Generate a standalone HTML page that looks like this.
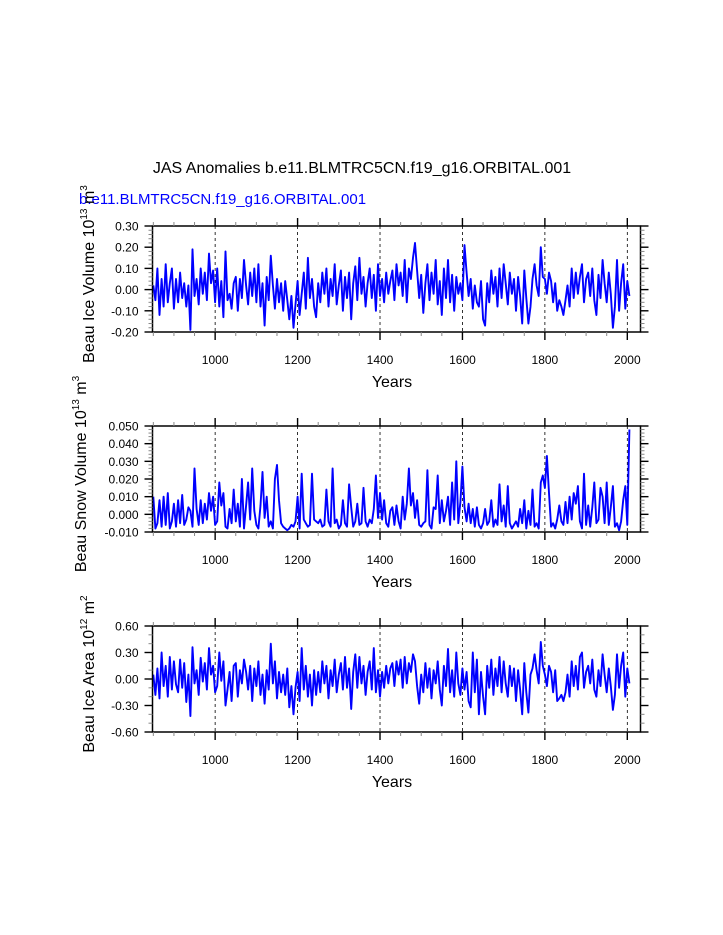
<!DOCTYPE html>
<html><head><meta charset="utf-8"><style>
html,body{margin:0;padding:0;background:#fff;}
svg{display:block;font-family:"Liberation Sans",Arial,sans-serif;}
</style></head><body>
<svg id="fig" width="723" height="935" viewBox="0 0 723 935">
<text x="362" y="173" font-size="16" text-anchor="middle">JAS Anomalies b.e11.BLMTRC5CN.f19_g16.ORBITAL.001</text>
<text x="79" y="204" font-size="15" fill="#0000ff">b.e11.BLMTRC5CN.f19_g16.ORBITAL.001</text>
</svg>
<script>
const startYear = 850, stepYears = 5;
const iceVolume = [2,-5,10,-12,5,-8,12,-6,3,10,-9,5,-6,8,-4,3,-8,2,-19,19,
-3,5,-7,10,-2,8,-5,17,3,9,-6,10,-8,4,-13,18,-5,-2,-9,3,
6,-10,5,-4,14,2,-7,8,-3,10,-6,12,-8,3,-17,6,-5,16,2,-9,
5,-6,3,-10,4,-5,-14,-3,-18,-7,4,-12,-2,8,-9,15,-4,5,-8,-13,
3,-6,8,-2,10,-8,5,-3,12,-7,2,9,-10,6,-4,8,-14,3,11,-5,
15,-2,6,-8,3,10,-4,7,-10,12,-3,5,-6,8,-2,4,9,-5,12,2,
8,-3,14,-6,10,5,15,22,9,-4,7,-11,3,12,-5,8,-2,14,-7,4,
-12,10,-4,14,-6,7,-10,6,-2,3,-5,21,8,-3,5,-9,2,-6,-8,4,
-14,-17,3,-6,9,-2,6,-8,10,-4,12,3,-7,8,-2,5,-10,6,-3,-16,
9,-4,-16,-8,5,12,2,-3,20,6,5,-2,8,4,-6,3,-10,-5,-8,-12,
-5,2,-8,10,-4,8,-2,6,12,-6,5,8,-3,10,-5,-12,7,-4,14,3,
-6,8,-2,-18,-8,14,-10,3,12,-9,4,-3];
const snowVolume = [10,-8,-5,8,-7,10,-6,12,-8,-4,6,-7,8,-5,11,-6,-3,4,2,-7,
26,3,-6,8,-5,6,-3,12,2,10,-6,-4,18,5,12,-7,-8,3,-5,14,
-4,6,-7,20,-8,5,18,-3,26,2,-6,-8,5,24,-2,10,-7,-4,-8,20,
28,8,-5,-7,-8,-9,-8,-6,-7,-4,10,-8,23,-3,-5,-7,-6,23,-3,-4,
-5,-3,-7,-6,14,-4,-7,26,-5,-3,-8,-6,8,-5,-7,17,4,-7,-4,6,
-6,-5,15,-4,-7,-3,-5,3,22,-2,12,-3,8,-5,-7,2,4,-6,5,-4,
-8,10,-3,6,26,5,12,-2,8,-6,-7,-5,-4,25,-6,-8,4,3,22,-5,
8,-4,2,10,-6,18,-3,30,-5,7,27,4,-4,6,-5,3,-7,4,-6,-8,
-5,3,-6,-4,8,-7,-3,-6,17,-4,5,-7,16,-5,-8,-6,-4,-7,3,-5,
8,-8,2,-6,14,-7,-5,-8,18,22,15,33,12,-7,-5,-8,-3,5,-4,-6,
7,-5,10,-3,12,6,16,-4,-8,23,-6,5,-7,4,18,-5,-3,15,10,-5,
18,-6,4,16,-7,-5,-9,-4,8,16,-6,48];
const iceArea = [5,-18,12,-22,30,-8,15,-20,25,-12,20,-6,-15,22,-10,18,-26,5,-42,36,
-5,10,-18,24,-3,18,-12,35,5,15,-15,-8,30,-2,20,-30,-12,8,-25,15,
18,-20,10,-5,22,8,-12,15,-25,12,-8,20,-18,5,-28,10,-12,40,-5,20,
-22,8,-15,5,-18,12,-32,-8,-40,-10,8,-25,35,-12,15,-20,5,-30,10,-18,
8,-15,20,-5,15,-22,10,-8,22,-15,5,18,-12,25,-10,12,-34,8,28,-10,
25,-5,15,-18,8,20,-12,35,-15,10,-20,8,-10,15,-5,12,18,-8,20,5,
22,-10,25,-5,18,8,28,20,-8,-28,5,-15,18,-10,12,-22,10,-5,20,-12,
-30,15,-8,34,-15,10,-20,30,-5,-18,12,-12,8,-25,-32,30,-15,22,-40,8,
-20,-40,15,-10,22,-18,12,-8,25,-15,20,-5,-20,15,-8,12,-25,10,-12,-40,
18,-15,-38,5,12,28,10,-5,42,15,5,-8,15,8,-15,10,-25,-22,-18,-25,
-15,5,-20,20,-8,15,-12,25,30,-10,8,15,-5,22,-12,-20,10,-8,28,5,
-15,12,-8,-35,-18,28,-10,15,30,-20,12,-5];
const xTickLabels = ["1000","1200","1400","1600","1800","2000"];
const yTicks1 = ["0.30","0.20","0.10","0.00","-0.10","-0.20"];
const yTicks2 = ["0.050","0.040","0.030","0.020","0.010","0.000","-0.010"];
const yTicks3 = ["0.60","0.30","0.00","-0.30","-0.60"];

const NS="http://www.w3.org/2000/svg";
const svg=document.getElementById('fig');
const X0=152.5,X1=640.5,XMIN=848,XMAX=2032;
const xs=y=>X0+(y-XMIN)/(XMAX-XMIN)*(X1-X0);
function mk(tag,attrs,parent){const e=document.createElementNS(NS,tag);for(const k in attrs)e.setAttribute(k,attrs[k]);(parent||svg).appendChild(e);return e;}

function panel(top,vals,scale,ticks,ymin,ymax,minorStep,labelParts,labelX,key){
  const H=106,bot=top+H;
  const ys=v=>bot-(v-ymin)/(ymax-ymin)*H;
  const g=mk('g',{});
  
  
  for(let i=0;i<xTickLabels.length;i++){
    const yr=+xTickLabels[i];
    const l=mk('line',{x1:xs(yr),x2:xs(yr),y1:top,y2:bot,stroke:'#000','stroke-width':0.8,'stroke-dasharray':'3,3'},g);
    
    
  }
  let d='';
  for(let i=0;i<vals.length;i++){const yr=startYear+i*stepYears;d+=(i?'L':'M')+xs(yr).toFixed(1)+','+ys(vals[i]*scale).toFixed(1);}
  const p=mk('path',{d:d,fill:'none',stroke:'#0000ff','stroke-width':1.9,'stroke-linejoin':'round'},g);
  
  
  const r=mk('rect',{x:X0,y:top,width:X1-X0,height:H,fill:'none',stroke:'#000','stroke-width':1.5},g);
  
  
  for(let yr=850;yr<=2030;yr+=50){
    const major=yr%200===0;const L=major?8:4;const x=xs(yr);
    mk('line',{x1:x,x2:x,y1:bot,y2:bot+L,stroke:major?'#000':'#888','stroke-width':major?1.4:1},g);
    mk('line',{x1:x,x2:x,y1:top,y2:top-L,stroke:major?'#000':'#888','stroke-width':major?1.4:1},g);
  }
  for(let i=0;i<xTickLabels.length;i++){
    const t=mk('text',{x:xs(+xTickLabels[i]),y:bot+32,'font-size':12,'text-anchor':'middle'},g);
    t.textContent=xTickLabels[i];
    
    
  }
  const nMin=Math.round((ymax-ymin)/minorStep);
  for(let k=0;k<=nMin;k++){
    const v=ymin+k*minorStep;const y=ys(v);
    mk('line',{x1:X0-4,x2:X0,y1:y,y2:y,stroke:'#888','stroke-width':1},g);
    mk('line',{x1:X1,x2:X1+4,y1:y,y2:y,stroke:'#888','stroke-width':1},g);
  }
  for(let i=0;i<ticks.length;i++){
    const y=ys(parseFloat(ticks[i]));
    mk('line',{x1:X0-8,x2:X0,y1:y,y2:y,stroke:'#000','stroke-width':1.4},g);
    mk('line',{x1:X1,x2:X1+8,y1:y,y2:y,stroke:'#000','stroke-width':1.4},g);
    const t=mk('text',{x:X0-14,y:y+4.5,'font-size':12,'text-anchor':'end'},g);
    t.textContent=ticks[i];
    
    
  }
  const xt=mk('text',{x:392,y:bot+55,'font-size':16,'text-anchor':'middle'},g);
  xt.textContent='Years';
  
  
  const cy=top+H/2-5;
  const yt=mk('text',{x:labelX,y:cy,'font-size':16,'text-anchor':'middle',transform:'rotate(-90 '+labelX+' '+cy+')'},g);
  
  
  const a=mk('tspan',{},yt);a.textContent=labelParts[0];
  const b=mk('tspan',{'font-size':10,dy:-7},yt);b.textContent=labelParts[1];
  const c=mk('tspan',{dy:7},yt);c.textContent=' '+labelParts[2];
  const e=mk('tspan',{'font-size':10,dy:-7},yt);e.textContent=labelParts[3];
}
panel(226,iceVolume,0.01,yTicks1,-0.2,0.3,0.02,['Beau Ice Volume 10','13','m','3'],94,'ice-volume');
panel(426,snowVolume,0.001,yTicks2,-0.01,0.05,0.002,['Beau Snow Volume 10','13','m','3'],86,'snow-volume');
panel(626,iceArea,0.01,yTicks3,-0.6,0.6,0.1,['Beau Ice Area 10','12','m','2'],94,'ice-area');
</script>
</body></html>
